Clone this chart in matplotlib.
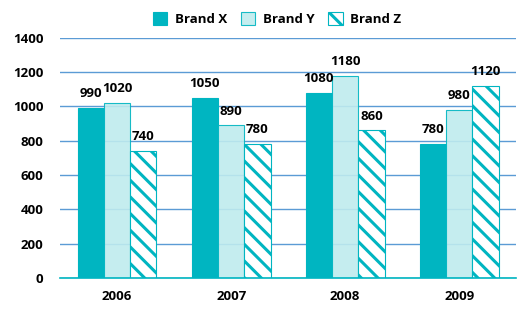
import numpy as np
import matplotlib
matplotlib.use("Agg")
import matplotlib.pyplot as plt

years = ["2006", "2007", "2008", "2009"]
brand_x = [990, 1050, 1080, 780]
brand_y = [1020, 890, 1180, 980]
brand_z = [740, 780, 860, 1120]

teal = "#00B5C1"
light = "#BFEBEE"
grid_blue = "#5B9BD5"

plt.rcParams["font.family"] = ["Open Sans", "DejaVu Sans"]
plt.rcParams["font.weight"] = "bold"
plt.rcParams["hatch.linewidth"] = 2.2
plt.rcParams["hatch.color"] = teal

fig = plt.figure(figsize=(5.23, 3.3), dpi=100)
ax = fig.add_axes([0.115, 0.158, 0.872, 0.727])

x = np.arange(len(years))
w = 0.23

bx = ax.bar(x - w, brand_x, w, color=teal, edgecolor=teal, linewidth=0.8, label="Brand X", zorder=2)
by = ax.bar(x, brand_y, w, color=light, edgecolor=teal, linewidth=0.8, alpha=0.9, label="Brand Y", zorder=2)
bz = ax.bar(x + w, brand_z, w, color="white", edgecolor=teal, linewidth=0.8, hatch="\\\\",
            label="Brand Z", zorder=2)

# value labels above each bar
for bars, vals in [(bx, brand_x), (by, brand_y), (bz, brand_z)]:
    for b, v in zip(bars, vals):
        ax.text(b.get_x() + b.get_width() / 2, v + 45, str(v), ha="center", va="bottom",
                fontsize=9.5, fontweight="bold", color="black", zorder=4)

ax.set_ylim(0, 1400)
ax.set_yticks(range(0, 1401, 200))
ax.set_xlim(-0.5, 3.5)
ax.set_xticks(x)
ax.set_xticklabels(years)
ax.yaxis.grid(True, color=grid_blue, linewidth=1, zorder=1)
ax.set_axisbelow(True)
for s in ["top", "right", "left"]:
    ax.spines[s].set_visible(False)
ax.spines["bottom"].set_color(teal)
ax.spines["bottom"].set_linewidth(1.2)
ax.tick_params(axis="both", length=0, labelsize=9.5)
ax.tick_params(axis="x", pad=9)
ax.tick_params(axis="y", pad=12)

ax.legend(loc="lower center", bbox_to_anchor=(0.476, 1.0), ncol=3, frameon=False,
          fontsize=9.5, handlelength=1.1, handleheight=1.1, columnspacing=1.0, handletextpad=0.6)

fig.savefig("out.png", dpi=100)
